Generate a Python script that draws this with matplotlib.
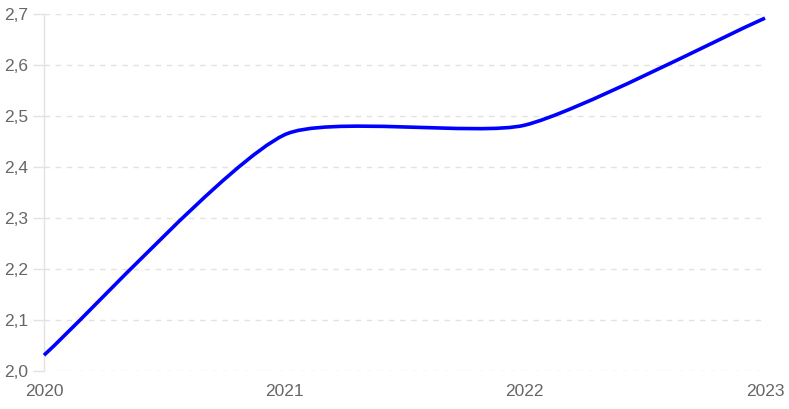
import matplotlib
matplotlib.use("Agg")
import matplotlib.pyplot as plt
import numpy as np
from matplotlib.path import Path
from matplotlib.patches import PathPatch
from matplotlib.ticker import FuncFormatter

years = [2020, 2021, 2022, 2023]
values = [2.031, 2.463, 2.482, 2.692]
y_ticks = [2.0, 2.1, 2.2, 2.3, 2.4, 2.5, 2.6, 2.7]

plt.rcParams['font.family'] = ['Liberation Sans', 'DejaVu Sans']

W, H = 789, 409
fig = plt.figure(figsize=(W / 100, H / 100), dpi=100)
ax = fig.add_axes([44 / W, 1 - 371 / H, (765 - 44) / W, (371 - 14) / H])
ax.set_xlim(2020, 2023)
ax.set_ylim(2.0, 2.7)

# Chart.js-like bezier spline (tension) computed in pixel space
tension = 0.2
pts = ax.transData.transform(np.column_stack([years, values]))
n = len(pts)
cps_prev = []
cps_next = []
for i in range(n):
    cur = pts[i]
    prev = pts[i - 1] if i > 0 else cur
    nxt = pts[i + 1] if i < n - 1 else cur
    d01 = np.hypot(*(cur - prev))
    d12 = np.hypot(*(nxt - cur))
    tot = d01 + d12
    s01 = d01 / tot if tot else 0
    s12 = d12 / tot if tot else 0
    cps_prev.append(cur - tension * s01 * (nxt - prev))
    cps_next.append(cur + tension * s12 * (nxt - prev))

verts = [pts[0]]
codes = [Path.MOVETO]
for i in range(n - 1):
    verts += [cps_next[i], cps_prev[i + 1], pts[i + 1]]
    codes += [Path.CURVE4] * 3
inv = ax.transData.inverted()
verts_data = inv.transform(np.array(verts))
path = Path(verts_data, codes)
patch = PathPatch(path, facecolor='none', edgecolor='#0000ff', linewidth=2.6,
                  capstyle='butt', joinstyle='round', clip_on=False, zorder=3)
ax.add_patch(patch)

# Grid and axes styling
ax.set_yticks(y_ticks)
ax.set_xticks(years)
ax.yaxis.set_major_formatter(FuncFormatter(lambda v, p: f"{v:.1f}".replace('.', ',')))
ax.xaxis.set_major_formatter(FuncFormatter(lambda v, p: f"{int(round(v))}"))
ax.yaxis.grid(True, color='#e2e2e2', linestyle=(0, (4, 4)), linewidth=1)
ax.xaxis.grid(False)
for s in ['top', 'right', 'bottom']:
    ax.spines[s].set_visible(False)
ax.spines['left'].set_color('#e2e2e2')
ax.spines['left'].set_linewidth(1)
ax.tick_params(axis='y', length=8, width=1, color='#e2e2e2', labelcolor='#666666',
               labelsize=12.5, pad=3.6)
ax.tick_params(axis='x', length=0, labelcolor='#666666', labelsize=12.5, pad=9.5)
ax.set_axisbelow(True)

fig.savefig('out.png', dpi=100)
